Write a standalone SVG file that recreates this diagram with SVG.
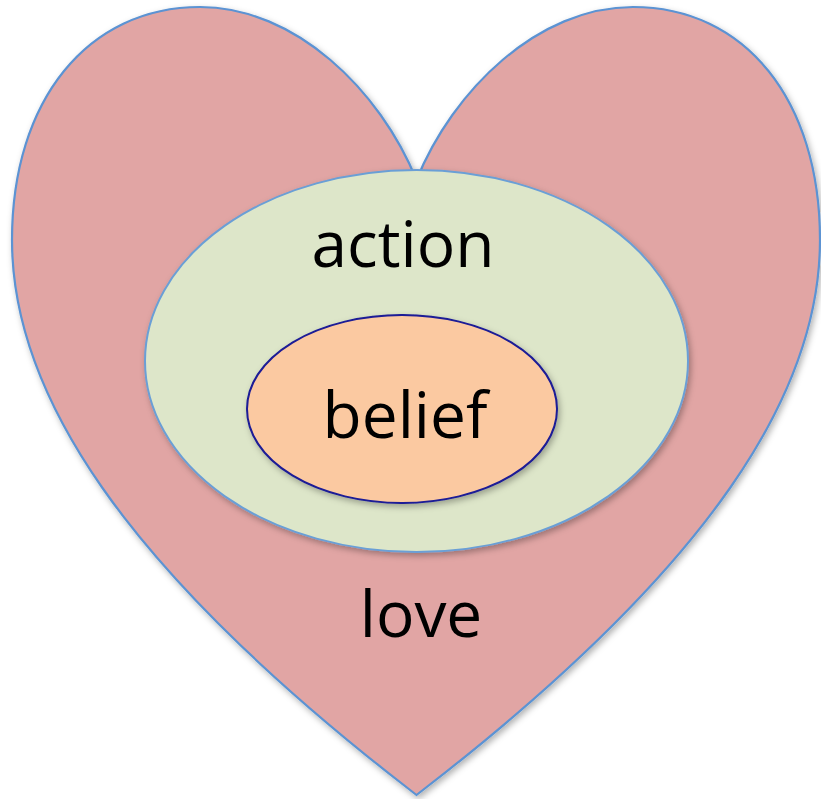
<svg xmlns="http://www.w3.org/2000/svg" width="821" height="799" viewBox="0 0 821 799">
  <defs>
    <filter id="sh" x="-10%" y="-10%" width="120%" height="120%">
      <feDropShadow dx="2" dy="3" stdDeviation="3" flood-color="#000" flood-opacity="0.3"/>
    </filter>
    <style>
      .lbl { font-family: "Open Sans", "Noto Sans", sans-serif; font-size: 64px; fill: #000; text-anchor: middle; }
    </style>
  </defs>
  <rect width="821" height="799" fill="#fff"/>
  <g id="love">
    <path d="M 416.5,180 C 380,90 295,7 200,7 C 88,7 12,100 12,240 C 12,390 117.5,565 416.5,795 C 715.5,565 820,390 820,240 C 820,100 745,7 633,7 C 538,7 453,90 416.5,180 Z" fill="#e1a5a4" stroke="#5b93d3" stroke-width="2.2" filter="url(#sh)"/>
    <text class="lbl" x="421" y="637">love</text>
  </g>
  <g id="action">
    <ellipse cx="416.5" cy="361" rx="271.5" ry="191" fill="#dde6c9" stroke="#6a9fd6" stroke-width="2" filter="url(#sh)"/>
    <text class="lbl" x="403" y="267">action</text>
  </g>
  <g id="belief">
    <ellipse cx="402" cy="409" rx="155" ry="94" fill="#fbc9a1" stroke="#1a1a96" stroke-width="2" filter="url(#sh)"/>
    <text class="lbl" x="405" y="438">belief</text>
  </g>
  <g id="connectors"/>
</svg>
